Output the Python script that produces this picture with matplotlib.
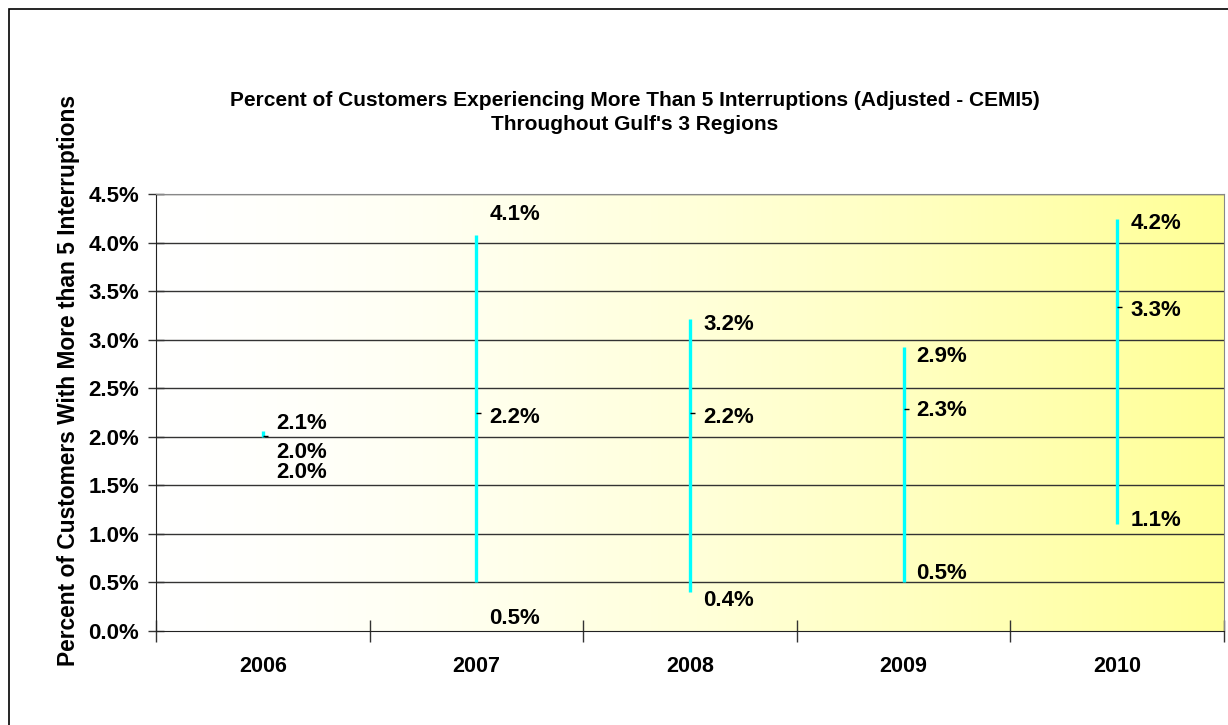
import numpy as np
import matplotlib
matplotlib.use('Agg')
import matplotlib.pyplot as plt
from matplotlib.path import Path
from matplotlib.patches import Rectangle

# data (percent)
years = ['2006', '2007', '2008', '2009', '2010']
high = [2.06, 4.08, 3.21, 2.92, 4.24]
close = [2.01, 2.24, 2.24, 2.29, 3.34]
low = [2.00, 0.50, 0.40, 0.50, 1.10]

# label vertical offsets in pixels (Excel moved a few labels around)
high_dy = [7, 20, -5, -9, -4]
close_dy = [-17, -4, -4, -2, -4]
low_dy = [-36, -36, -8, 9, 4]

plt.rcParams['font.family'] = ['Liberation Sans', 'DejaVu Sans']
plt.rcParams['font.weight'] = 'bold'

fig = plt.figure(figsize=(12.28, 7.25), dpi=100)
ax = fig.add_axes([156 / 1228, 1 - 631 / 725, (1224 - 156) / 1228, (631 - 194) / 725])

x = np.arange(1, len(years) + 1)

# white -> yellow gradient background
t = np.linspace(0, 1, 300) ** 1.5
grad = np.zeros((1, 300, 3))
grad[0, :, 0] = 1.0
grad[0, :, 1] = 1.0
grad[0, :, 2] = 1.0 - t * (105 / 255)
ax.imshow(grad, extent=[0.5, 5.5, 0, 4.5], aspect='auto', zorder=0)

for v in np.arange(0.5, 4.51, 0.5):
    ax.axhline(v, color='#333333', lw=1.0, zorder=1)

# high-low lines
ax.vlines(x, low, high, color='#00FFFF', lw=2.4, zorder=3)
# close ticks to the right
tick = Path([(0, 0), (1, 0)], [Path.MOVETO, Path.LINETO])
ax.plot(x, close, ls='none', marker=tick, ms=7, mec='black', mew=1.0, zorder=4)

for i in range(len(years)):
    for val, dy in ((high[i], high_dy[i]), (close[i], close_dy[i]), (low[i], low_dy[i])):
        ax.annotate('{:.1f}%'.format(val), (x[i], val), xytext=(13, dy),
                    textcoords='offset pixels', ha='left', va='center',
                    fontsize=16, fontweight='bold', zorder=5)

ax.set_xlim(0.5, 5.5)
ax.set_ylim(0, 4.5)
ax.set_yticks(np.arange(0, 4.51, 0.5))
ax.set_yticklabels(['{:.1f}%'.format(v) for v in np.arange(0, 4.51, 0.5)], fontsize=16)
ax.set_xticks(np.arange(0.5, 5.51, 1))
ax.set_xticklabels([])
ax.set_xticks(x, minor=True)
ax.set_xticklabels(years, minor=True, fontsize=15.5)
ax.tick_params(axis='x', which='minor', length=0, pad=18)
ax.tick_params(axis='x', which='major', direction='inout', length=16, width=1, color='#333333')
ax.tick_params(axis='y', direction='inout', length=12, width=1, color='#333333', pad=6)

for s in ['top', 'right']:
    ax.spines[s].set_color('#888888')
for s in ['left', 'bottom']:
    ax.spines[s].set_color('#222222')

ax.set_ylabel('Percent of Customers With More than 5 Interruptions', fontsize=16.4, fontweight='bold')
ax.yaxis.set_label_coords((68 - 156) / 1068, (631 - 380) / 437)
ax.yaxis.label.set_va('center')

fig.text(635 / 1228, 1 - 100 / 725,
         'Percent of Customers Experiencing More Than 5 Interruptions (Adjusted - CEMI5)',
         ha='center', va='center', fontsize=15, fontweight='bold')
fig.text(635 / 1228, 1 - 124 / 725, "Throughout Gulf's 3 Regions",
         ha='center', va='center', fontsize=15, fontweight='bold')

# chart frame
fig.patches.append(Rectangle((9 / 1228, -0.02), 1.0, 1 - 9 / 725 + 0.02,
                             transform=fig.transFigure, fill=False, ec='black', lw=1.2))

fig.savefig('out.png', dpi=100)
